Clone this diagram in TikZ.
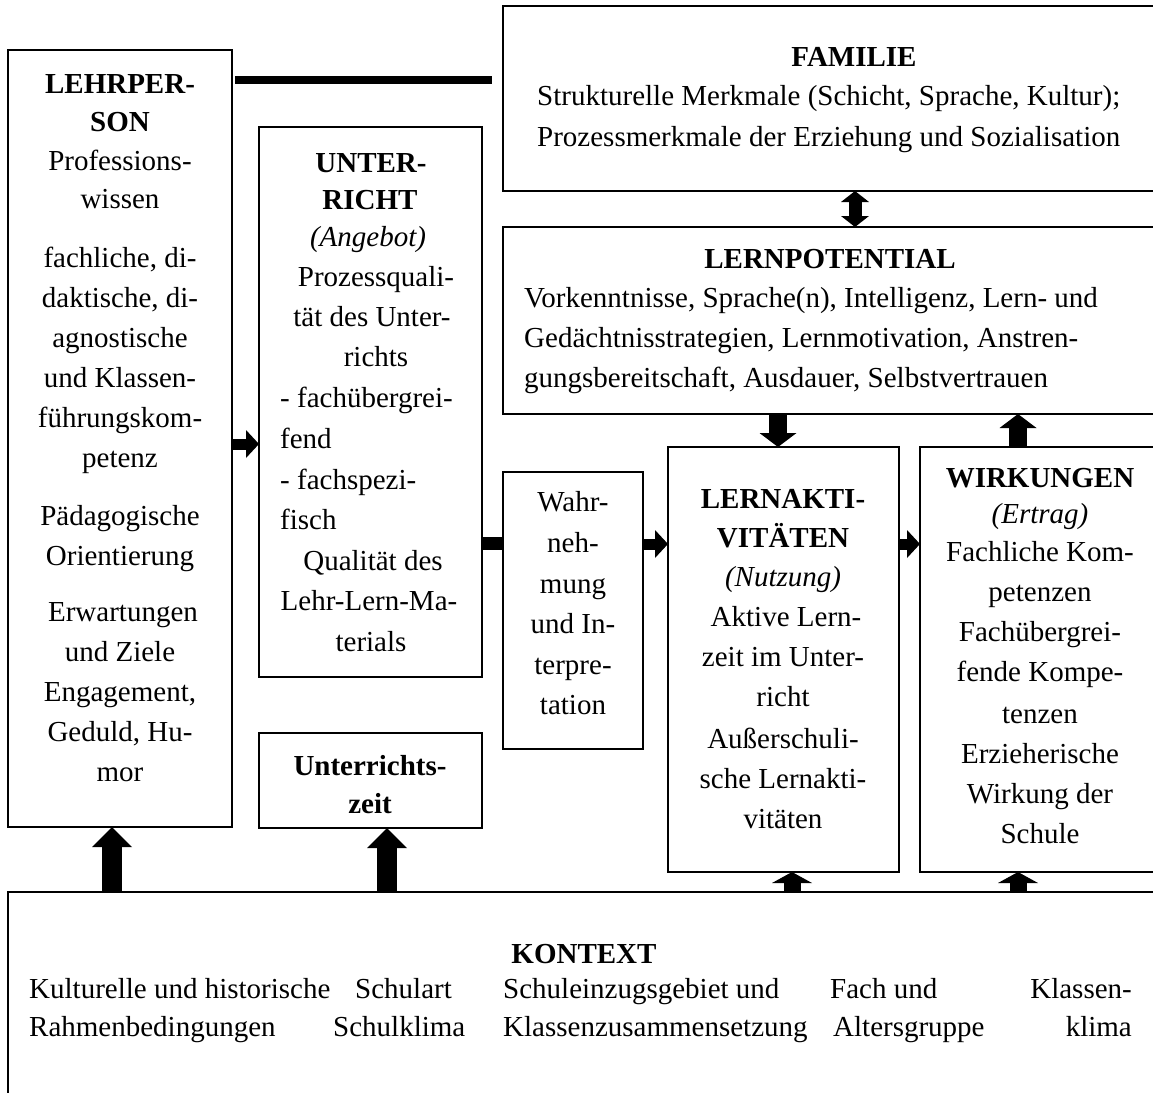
\documentclass[tikz,border=0pt]{standalone}
\usepackage{fontspec}
\setmainfont{Liberation Serif}
\usetikzlibrary{arrows.meta}
\newcommand\fsz{\fontsize{29}{35}\selectfont}
\begin{document}
\begin{tikzpicture}[x=1pt,y=-1pt,
  box/.style={draw, line width=2.5pt, rectangle, inner sep=0pt, outer sep=0pt, anchor=north west},
  txt/.style={inner sep=0pt, anchor=base, font=\fsz},
  txtb/.style={txt, font=\fsz\bfseries},
  txtl/.style={txt, anchor=base west},
  txtr/.style={txt, anchor=base east},
  harrow/.style={line width=11pt, -{Triangle[width=28pt,length=13pt,line width=0pt]}},
  bar/.style={line width=13pt},
  link/.style={line width=8pt, shorten <=3pt, shorten >=11pt},
  darrow/.style={line width=13pt, {Triangle[width=28pt,length=11pt,line width=0pt]}-{Triangle[width=28pt,length=11pt,line width=0pt]}},
  varrow/.style={line width=18pt, -{Triangle[width=37pt,length=14pt,line width=0pt]}},
  bigup/.style={line width=20pt, -{Triangle[width=40pt,length=20pt,line width=0pt]}},
  smallup/.style={line width=17pt, -{Triangle[width=40pt,length=11pt,line width=0pt]}}
]
\useasboundingbox (0,0) rectangle (1153,1092);
\clip (0,0) rectangle (1153,1092);

% boxes
\node[box, minimum width=224pt, minimum height=777pt] (lehr) at (8,50) {};
\node[box, minimum width=223pt, minimum height=550pt] (unt) at (259,127) {};
\node[box, minimum width=223pt, minimum height=95pt] (uzeit) at (259,733) {};
\node[box, minimum width=657pt, minimum height=185pt] (fam) at (503,6) {};
\node[box, minimum width=657pt, minimum height=187pt] (lpot) at (503,227) {};
\node[box, minimum width=140pt, minimum height=277pt] (wahr) at (503,472) {};
\node[box, minimum width=231pt, minimum height=425pt] (lakt) at (668,447) {};
\node[box, minimum width=240pt, minimum height=425pt] (wirk) at (920,447) {};
\node[box, minimum width=1152pt, minimum height=220pt] (kon) at (8,892) {};

% helper coordinates
\coordinate (ya) at (0,444);
\coordinate (yb) at (0,543);
\coordinate (yc) at (0,544);
\coordinate (yd) at (0,80);
\coordinate (xa) at (112,0);
\coordinate (xb) at (387,0);
\coordinate (xc) at (792,0);
\coordinate (xd) at (1018,0);
\coordinate (xe) at (778,0);
\coordinate (xf) at (855,0);

% connectors
\draw[link] (lehr.east |- yd) -- (fam.west |- yd);
\draw[harrow] (lehr.east |- ya) -- (unt.west |- ya);
\draw[bar] (unt.east |- yb) -- (wahr.west |- yb);
\draw[harrow] (wahr.east |- yc) -- (lakt.west |- yc);
\draw[harrow] (lakt.east |- yc) -- (wirk.west |- yc);
\draw[darrow] (fam.south -| xf) -- (lpot.north -| xf);
\draw[varrow] (lpot.south -| xe) -- (lakt.north -| xe);
\draw[varrow] (wirk.north -| xd) -- (lpot.south -| xd);
\draw[bigup] (kon.north -| xa) -- (lehr.south -| xa);
\draw[bigup] (kon.north -| xb) -- (uzeit.south -| xb);
\draw[smallup] (kon.north -| xc) -- (lakt.south -| xc);
\draw[smallup] (kon.north -| xd) -- (wirk.south -| xd);

% LEHRPERSON
\node[txtb] (l1) at (120,93) {LEHRPER-};
\node[txtb] (l2) at (120,131) {SON};
\node[txt] (l3) at (120,170) {Professions-};
\node[txt] (l4) at (120,208) {wissen};
\node[txt] (l5) at (120,267) {fachliche, di-};
\node[txt] (l6) at (120,307) {daktische, di-};
\node[txt] (l7) at (120,347) {agnostische};
\node[txt] (l8) at (120,387) {und Klassen-};
\node[txt] (l9) at (120,427) {führungskom-};
\node[txt] (l10) at (120,467) {petenz};
\node[txt] (l11) at (120,525) {Pädagogische};
\node[txt] (l12) at (120,565) {Orientierung};
\node[txt] (l13) at (123,621) {Erwartungen};
\node[txt] (l14) at (120,661) {und Ziele};
\node[txt] (l15) at (120,701) {Engagement,};
\node[txt] (l16) at (120,741) {Geduld, Hu-};
\node[txt] (l17) at (120,781) {mor};

% UNTERRICHT
\node[txtb] (u1) at (371,172) {UNTER-};
\node[txtb] (u2) at (370,209) {RICHT};
\node[txt] (u3) at (368,246) {\itshape (Angebot)};
\node[txt] (u4) at (376,286) {Prozessquali-};
\node[txt] (u5) at (372,326) {tät des Unter-};
\node[txt] (u6) at (376,366) {richts};
\node[txtl] (u7) at (280,407) {- fachübergrei-};
\node[txtl] (u8) at (280,448) {fend};
\node[txtl] (u9) at (280,489) {- fachspezi-};
\node[txtl] (u10) at (280,529) {fisch};
\node[txt] (u11) at (373,570) {Qualität des};
\node[txt] (u12) at (369,610) {Lehr-Lern-Ma-};
\node[txt] (u13) at (371,651) {terials};

% UNTERRICHTSZEIT
\node[txtb] (z1) at (370,775) {Unterrichts-};
\node[txtb] (z2) at (370,813) {zeit};

% FAMILIE
\node[txtb] (f1) at (854,66) {FAMILIE};
\node[txtl] (f2) at (537,105) {Strukturelle Merkmale (Schicht, Sprache, Kultur);};
\node[txtl] (f3) at (537,146) {Prozessmerkmale der Erziehung und Sozialisation};

% LERNPOTENTIAL
\node[txtb] (p1) at (830,268) {LERNPOTENTIAL};
\node[txtl] (p2) at (524,307) {Vorkenntnisse, Sprache(n), Intelligenz, Lern- und};
\node[txtl] (p3) at (524,347) {Gedächtnisstrategien, Lernmotivation, Anstren-};
\node[txtl] (p4) at (524,387) {gungsbereitschaft, Ausdauer, Selbstvertrauen};

% WAHRNEHMUNG
\node[txt] (w1) at (573,511) {Wahr-};
\node[txt] (w2) at (573,552) {neh-};
\node[txt] (w3) at (573,593) {mung};
\node[txt] (w4) at (573,633) {und In-};
\node[txt] (w5) at (573,674) {terpre-};
\node[txt] (w6) at (573,714) {tation};

% LERNAKTIVITAETEN
\node[txtb] (a1) at (783,508) {LERNAKTI-};
\node[txtb] (a2) at (783,547) {VITÄTEN};
\node[txt] (a3) at (783,586) {\itshape (Nutzung)};
\node[txt] (a4) at (786,626) {Aktive Lern-};
\node[txt] (a5) at (783,666) {zeit im Unter-};
\node[txt] (a6) at (783,706) {richt};
\node[txt] (a7) at (783,748) {Außerschuli-};
\node[txt] (a8) at (783,788) {sche Lernakti-};
\node[txt] (a9) at (783,828) {vitäten};

% WIRKUNGEN
\node[txtb] (k1) at (1040,487) {WIRKUNGEN};
\node[txt] (k2) at (1040,523) {\itshape (Ertrag)};
\node[txt] (k3) at (1040,561) {Fachliche Kom-};
\node[txt] (k4) at (1040,601) {petenzen};
\node[txt] (k5) at (1040,641) {Fachübergrei-};
\node[txt] (k6) at (1040,681) {fende Kompe-};
\node[txt] (k7) at (1040,723) {tenzen};
\node[txt] (k8) at (1040,763) {Erzieherische};
\node[txt] (k9) at (1040,803) {Wirkung der};
\node[txt] (k10) at (1040,843) {Schule};

% KONTEXT
\node[txtb] (c0) at (584,963) {KONTEXT};
\node[txtl] (c1) at (29,998) {Kulturelle und historische};
\node[txtl] (c2) at (355,998) {Schulart};
\node[txtl] (c3) at (503,998) {Schuleinzugsgebiet und};
\node[txtl] (c4) at (830,998) {Fach und};
\node[txtr] (c5) at (1132,998) {Klassen-};
\node[txtl] (c6) at (29,1036) {Rahmenbedingungen};
\node[txtl] (c7) at (333,1036) {Schulklima};
\node[txtl] (c8) at (503,1036) {Klassenzusammensetzung};
\node[txtl] (c9) at (833,1036) {Altersgruppe};
\node[txtr] (c10) at (1132,1036) {klima};
\end{tikzpicture}
\end{document}
